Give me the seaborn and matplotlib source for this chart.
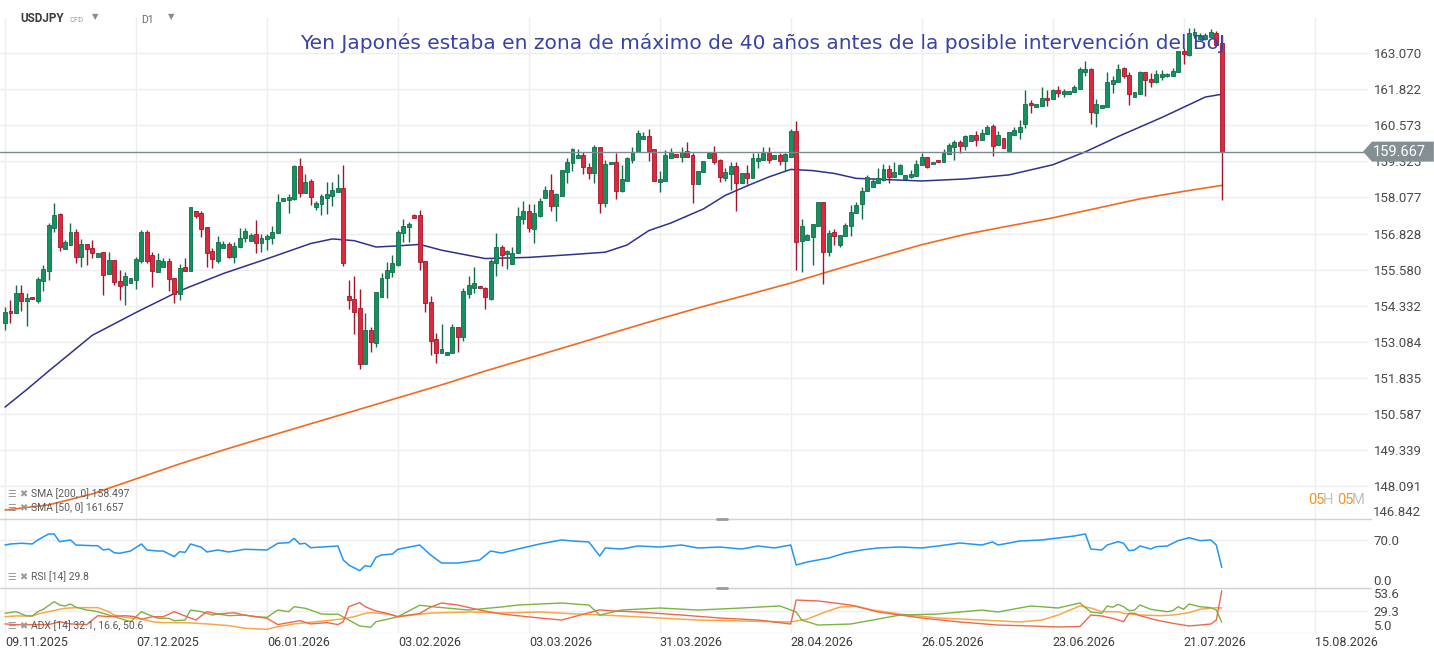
import numpy as np
import matplotlib
matplotlib.use("Agg")
import matplotlib.pyplot as plt
from matplotlib.patches import Polygon
from matplotlib.lines import Line2D
import seaborn as sns

# ---- daily USDJPY candles (one bar per session) ----
opens = [153.73, 154.14, 154.07, 154.77, 154.50, 154.63, 154.50, 155.18, 155.53, 157.02,
         157.51, 156.29, 156.43, 156.88, 156.02, 156.47, 156.33, 156.02, 156.19, 155.43,
         155.91, 155.18, 155.04, 155.11, 155.22, 155.88, 156.88, 156.08, 155.50, 155.67,
         155.88, 155.29, 154.73, 155.67, 155.53, 157.61, 157.54, 157.06, 156.22, 155.88,
         156.33, 156.47, 156.02, 156.36, 156.67, 156.57, 156.81, 156.50, 156.64, 156.67,
         156.85, 157.96, 157.99, 158.03, 159.17, 158.23, 158.65, 157.75, 157.85, 158.06,
         158.13, 158.27, 158.41, 154.66, 154.56, 154.25, 152.30, 153.49, 153.03, 154.63,
         155.29, 155.50, 155.74, 156.85, 157.06, 157.47, 157.47, 155.88, 154.46, 153.17,
         152.69, 152.62, 152.69, 153.59, 153.24, 154.73, 154.94, 155.01, 154.94, 154.56,
         155.81, 156.36, 156.12, 155.77, 156.15, 157.33, 157.61, 156.99, 157.44, 158.06,
         158.34, 157.78, 158.13, 158.96, 159.27, 159.45, 159.55, 159.14, 158.93, 159.83,
         157.89, 159.24, 159.31, 158.30, 158.65, 159.38, 159.66, 160.11, 160.21, 159.76,
         158.62, 158.65, 159.45, 159.59, 159.48, 159.69, 159.55, 158.55, 158.96, 159.45,
         159.62, 159.38, 158.76, 158.89, 159.17, 158.58, 158.93, 158.76, 159.34, 159.38,
         159.62, 159.41, 159.55, 159.34, 159.48, 160.38, 156.57, 156.60, 156.71, 157.09,
         157.92, 156.19, 156.88, 156.43, 156.74, 157.09, 157.54, 157.85, 158.30, 158.44,
         158.58, 158.69, 159.07, 158.79, 158.89, 158.72, 158.79, 158.83, 159.21, 159.48,
         159.24, 159.38, 159.31, 159.59, 159.83, 160.00, 159.86, 160.04, 160.25, 160.07,
         160.28, 160.56, 159.90, 160.14, 159.69, 160.25, 160.35, 160.63, 161.36, 161.22,
         161.25, 161.53, 161.49, 161.81, 161.67, 161.67, 161.74, 161.84, 162.43, 162.53,
         161.01, 161.18, 161.22, 162.01, 162.08, 162.57, 162.33, 161.56, 161.67, 162.43,
         162.19, 162.08, 162.26, 162.29, 162.29, 162.43, 163.16, 163.02, 163.71, 163.57,
         163.57, 163.64, 163.78, 163.44]
highs = [154.28, 154.53, 155.04, 155.04, 154.77, 154.63, 155.32, 155.74, 157.19, 157.89,
         157.54, 156.60, 157.19, 156.99, 156.64, 156.47, 156.60, 156.15, 156.19, 156.19,
         155.91, 155.57, 155.50, 155.29, 156.02, 156.95, 156.95, 156.19, 156.15, 155.98,
         155.98, 155.29, 155.77, 155.98, 157.75, 157.61, 157.61, 157.06, 156.33, 156.74,
         156.57, 156.54, 156.54, 157.02, 157.02, 156.85, 157.30, 156.81, 156.81, 157.09,
         158.20, 158.06, 158.20, 159.21, 159.45, 158.89, 158.72, 157.96, 158.20, 158.62,
         158.62, 158.89, 159.21, 155.22, 155.36, 154.90, 154.07, 153.59, 154.80, 155.46,
         155.84, 156.09, 156.95, 157.33, 157.23, 157.51, 157.65, 155.88, 154.66, 153.38,
         153.69, 152.72, 153.69, 153.59, 154.94, 155.36, 155.67, 155.01, 154.97, 155.95,
         156.85, 156.43, 156.26, 156.36, 157.75, 157.96, 157.85, 157.85, 158.06, 158.48,
         158.89, 158.23, 159.03, 159.45, 159.79, 159.76, 159.66, 159.27, 159.90, 159.83,
         159.38, 159.31, 159.62, 159.21, 159.48, 159.83, 160.42, 160.35, 160.45, 159.76,
         159.00, 159.73, 159.79, 159.59, 159.83, 160.00, 159.62, 159.00, 159.34, 159.66,
         159.86, 159.41, 159.10, 159.31, 159.31, 158.93, 159.21, 159.62, 159.62, 159.83,
         159.83, 159.55, 159.62, 159.62, 160.45, 160.73, 157.33, 156.81, 157.16, 157.92,
         157.92, 156.95, 156.99, 156.78, 157.19, 157.82, 157.92, 158.44, 158.86, 158.76,
         159.10, 159.24, 159.21, 159.31, 159.24, 158.86, 159.03, 159.38, 159.62, 159.48,
         159.31, 159.38, 159.76, 159.97, 160.07, 160.07, 160.25, 160.25, 160.38, 160.45,
         160.59, 160.63, 160.38, 160.14, 160.35, 160.52, 160.77, 161.81, 161.46, 161.32,
         161.91, 161.81, 161.84, 161.94, 161.84, 161.77, 161.98, 162.60, 162.81, 162.57,
         161.49, 161.29, 162.43, 162.29, 162.71, 162.60, 162.43, 161.74, 162.46, 162.43,
         162.40, 162.50, 162.50, 162.40, 162.57, 163.16, 163.26, 163.95, 163.95, 163.78,
         163.78, 163.92, 163.85, 163.71]
lows = [153.48, 153.73, 154.07, 154.14, 153.62, 154.56, 154.42, 154.84, 155.22, 156.88,
        156.22, 156.29, 156.43, 155.81, 155.67, 155.74, 155.98, 156.02, 154.70, 155.43,
        155.04, 154.53, 154.35, 155.11, 154.91, 155.81, 155.81, 154.97, 155.50, 155.67,
        154.84, 154.42, 154.53, 155.53, 155.53, 157.37, 156.71, 155.67, 155.63, 155.81,
        156.33, 155.98, 155.81, 156.36, 156.53, 156.57, 156.15, 156.19, 156.26, 156.47,
        156.85, 157.96, 157.54, 157.99, 158.10, 158.23, 157.82, 157.65, 157.47, 157.51,
        157.78, 158.27, 155.70, 154.21, 153.34, 152.13, 152.30, 152.72, 152.89, 154.63,
        154.59, 155.32, 155.70, 156.53, 156.53, 157.37, 155.57, 154.11, 152.62, 152.34,
        152.69, 152.62, 152.69, 152.72, 153.10, 154.59, 154.77, 154.94, 154.21, 154.53,
        155.36, 155.70, 155.60, 155.77, 156.15, 157.16, 156.88, 156.50, 157.40, 158.06,
        157.61, 157.26, 158.13, 158.58, 159.00, 159.45, 158.89, 158.72, 158.58, 157.54,
        157.75, 159.24, 158.03, 158.27, 158.65, 159.27, 159.66, 160.11, 159.34, 158.65,
        158.27, 158.65, 159.45, 159.48, 159.31, 159.48, 157.89, 158.55, 158.96, 159.45,
        159.24, 158.62, 158.65, 158.34, 157.61, 158.58, 158.55, 158.76, 159.10, 159.38,
        159.27, 159.41, 159.21, 159.00, 159.48, 155.57, 155.50, 156.60, 155.74, 157.09,
        155.08, 156.05, 156.43, 156.36, 156.74, 156.74, 157.54, 157.33, 158.30, 158.44,
        158.58, 158.65, 158.58, 158.79, 158.89, 158.72, 158.76, 158.83, 159.21, 159.10,
        159.24, 159.31, 159.31, 159.59, 159.38, 159.62, 159.73, 160.04, 159.86, 160.07,
        160.28, 159.52, 159.90, 159.79, 159.69, 160.25, 160.11, 160.49, 161.01, 161.22,
        161.25, 161.25, 161.49, 161.56, 161.56, 161.67, 161.74, 161.84, 162.29, 160.63,
        160.52, 161.18, 161.22, 161.70, 162.08, 162.22, 161.29, 161.56, 161.67, 161.60,
        161.91, 162.05, 162.15, 162.26, 162.29, 162.43, 162.71, 162.98, 163.61, 163.54,
        163.54, 163.64, 163.37, 157.99]
closes = [154.11, 154.07, 154.77, 154.49, 154.59, 154.56, 155.25, 155.60, 157.13, 157.47,
          156.36, 156.53, 156.88, 156.02, 156.47, 156.29, 156.15, 156.15, 155.39, 155.91,
          155.15, 155.01, 155.36, 155.29, 155.95, 156.88, 155.88, 155.53, 155.91, 155.88,
          155.25, 154.73, 155.63, 155.53, 157.75, 157.44, 156.99, 156.15, 155.95, 156.53,
          156.47, 156.02, 156.40, 156.67, 156.92, 156.78, 156.50, 156.67, 156.74, 156.88,
          157.92, 158.06, 158.09, 159.17, 158.23, 158.62, 158.10, 157.89, 158.13, 158.20,
          158.34, 158.41, 155.81, 154.53, 154.11, 152.30, 153.49, 153.07, 154.80, 155.29,
          155.57, 155.81, 156.88, 157.09, 157.16, 157.37, 155.84, 154.42, 153.10, 152.69,
          152.83, 152.72, 153.59, 153.24, 154.84, 155.04, 155.11, 154.94, 154.63, 155.88,
          156.36, 156.09, 156.22, 156.15, 157.44, 157.61, 157.02, 157.54, 157.96, 158.34,
          157.78, 158.20, 159.03, 159.31, 159.76, 159.55, 159.14, 158.93, 159.83, 157.89,
          159.24, 159.31, 158.30, 158.72, 159.45, 159.66, 160.31, 160.21, 159.69, 158.65,
          158.72, 159.55, 159.66, 159.48, 159.66, 159.48, 158.55, 159.00, 159.34, 159.62,
          159.31, 158.79, 158.96, 159.17, 158.58, 158.93, 158.76, 159.45, 159.45, 159.62,
          159.38, 159.55, 159.34, 159.59, 160.38, 156.54, 157.09, 156.78, 157.16, 157.92,
          156.19, 156.85, 156.74, 156.78, 157.13, 157.58, 157.82, 158.30, 158.79, 158.65,
          158.76, 159.07, 158.79, 158.96, 159.21, 158.86, 158.89, 159.24, 159.48, 159.14,
          159.31, 159.31, 159.62, 159.90, 160.00, 159.86, 160.21, 160.25, 160.07, 160.31,
          160.52, 159.86, 160.25, 159.79, 160.35, 160.42, 160.52, 161.32, 161.29, 161.32,
          161.53, 161.46, 161.81, 161.70, 161.77, 161.77, 161.91, 162.53, 162.53, 161.04,
          161.32, 161.29, 162.08, 162.15, 162.53, 162.29, 161.67, 161.74, 162.43, 162.15,
          162.08, 162.36, 162.36, 162.36, 162.46, 163.16, 163.05, 163.78, 163.82, 163.68,
          163.71, 163.82, 163.37, 159.667]

# ---- moving averages (bar number, value) ----
sma50_bar = [0, 4, 8, 16, 24, 32, 40, 48, 56, 60, 64, 68, 72, 76, 80, 88, 96, 104, 110, 114,
             118, 122, 128, 132, 136, 140, 144, 148, 152, 156, 160, 168, 176, 184, 192, 198,
             204, 212, 220, 223]
sma50_val = [150.81, 151.42, 152.06, 153.30, 154.09, 154.84, 155.44, 155.95, 156.48, 156.64,
             156.58, 156.36, 156.40, 156.45, 156.25, 155.96, 156.00, 156.10, 156.18, 156.43,
             156.93, 157.19, 157.68, 158.15, 158.48, 158.79, 159.05, 159.01, 158.91, 158.74,
             158.71, 158.65, 158.72, 158.86, 159.21, 159.66, 160.19, 160.85, 161.56, 161.657]
sma200_bar = [0, 8, 16, 24, 32, 40, 48, 56, 64, 72, 80, 88, 96, 104, 112, 120, 128, 136, 144,
              152, 160, 168, 176, 184, 192, 200, 208, 216, 223]
sma200_val = [147.24, 147.42, 147.80, 148.32, 148.84, 149.32, 149.78, 150.23, 150.68, 151.13,
              151.58, 152.06, 152.51, 152.96, 153.42, 153.87, 154.30, 154.70, 155.11, 155.57,
              156.01, 156.44, 156.80, 157.09, 157.37, 157.70, 158.03, 158.29, 158.497]

# ---- RSI(14) ----
rsi_bar = [0, 1, 3, 5, 6, 8, 9, 10, 12, 13, 16, 17, 18, 19, 20, 21, 23, 25, 26, 28, 29, 31, 32,
           33, 34, 36, 37, 39, 41, 44, 48, 50, 52, 53, 54, 55, 56, 61, 62, 63, 65, 66, 67, 68,
           69, 71, 72, 76, 78, 80, 83, 87, 89, 91, 94, 98, 102, 104, 107, 109, 110, 113, 116,
           120, 124, 127, 131, 135, 138, 141, 144, 145, 147, 149, 151, 154, 157, 160, 164, 168,
           171, 175, 179, 181, 182, 186, 190, 193, 196, 198, 199, 201, 202, 204, 205, 206, 207,
           208, 210, 211, 213, 215, 217, 219, 221, 222, 223]
rsi_val = [62.3, 63.8, 64.8, 63.8, 69.6, 78.3, 78.3, 67.1, 69.6, 62.3, 61.3, 61.3, 55.1, 56.5,
           51.2, 50.3, 53.6, 63.8, 55.1, 53.6, 53.6, 45.4, 52.6, 51.7, 63.8, 59.0, 52.2, 55.1,
           52.2, 56.1, 55.1, 64.8, 65.7, 72.0, 63.8, 64.8, 58.4, 60.9, 40.6, 33.3, 25.1, 32.3,
           30.9, 44.5, 47.8, 49.3, 56.1, 62.3, 47.8, 36.2, 36.2, 40.6, 53.6, 50.7, 56.5, 63.8,
           69.6, 68.1, 66.7, 46.4, 58.0, 56.5, 60.9, 59.4, 62.3, 58.0, 59.4, 56.5, 60.9, 58.0,
           62.3, 33.3, 37.7, 40.6, 43.5, 50.7, 55.1, 58.0, 59.4, 58.0, 60.9, 65.2, 62.3, 66.7,
           62.3, 68.1, 69.6, 72.5, 75.4, 78.3, 56.5, 55.1, 62.3, 67.1, 64.8, 54.1, 55.1, 60.9,
           56.5, 59.9, 60.9, 68.6, 72.9, 68.6, 69.6, 62.3, 29.8]

# ---- ADX(14): ADX, +DI, -DI ----
adx_bar = [0, 2, 5, 6, 8, 10, 11, 13, 17, 19, 20, 22, 25, 27, 29, 33, 37, 41, 44, 48, 50, 53,
           57, 60, 62, 64, 66, 67, 69, 71, 72, 78, 85, 91, 98, 105, 113, 120, 127, 135, 144,
           147, 150, 153, 156, 159, 164, 171, 179, 186, 190, 193, 197, 199, 201, 204, 205, 208,
           212, 214, 217, 219, 222, 223]
adx_val = [22.6, 23.4, 23.4, 25.5, 28.0, 30.6, 31.7, 32.4, 32.4, 28.0, 24.4, 21.9, 20.2, 17.2,
           16.2, 16.2, 14.8, 13.0, 10.1, 9.0, 11.9, 14.8, 17.2, 19.0, 20.4, 22.6, 26.2, 26.9,
           26.2, 24.4, 22.6, 26.6, 27.7, 26.6, 27.7, 25.5, 23.4, 21.2, 19.0, 18.0, 16.9, 20.0,
           27.0, 33.0, 34.0, 29.8, 25.5, 21.2, 19.0, 16.9, 19.0, 24.4, 34.2, 32.0, 28.0, 28.0,
           26.3, 24.4, 23.7, 24.4, 26.9, 30.6, 32.3, 32.1]
pdi_bar = [0, 2, 4, 5, 6, 7, 9, 10, 11, 12, 13, 15, 16, 17, 19, 21, 23, 25, 26, 28, 30, 31, 33,
           34, 36, 38, 39, 41, 44, 46, 48, 50, 52, 53, 55, 56, 58, 60, 61, 63, 65, 67, 68, 70,
           72, 76, 79, 85, 91, 94, 102, 107, 109, 113, 120, 127, 135, 142, 145, 146, 149, 155,
           159, 164, 171, 179, 182, 188, 193, 197, 199, 201, 202, 203, 204, 205, 206, 207, 208,
           210, 213, 214, 215, 216, 217, 219, 221, 222, 223]
pdi_val = [26.3, 28.0, 23.4, 23.4, 28.0, 30.6, 38.8, 35.2, 34.2, 36.3, 32.8, 29.8, 29.1, 28.0,
           24.4, 20.9, 17.2, 28.0, 25.5, 20.9, 20.9, 18.3, 19.0, 29.8, 28.0, 24.4, 25.5, 23.7,
           24.4, 22.6, 21.9, 29.8, 28.0, 33.4, 31.7, 29.8, 25.5, 25.2, 25.5, 19.0, 12.6, 11.2,
           17.2, 19.8, 22.6, 35.0, 33.0, 29.8, 33.1, 35.2, 37.4, 35.2, 24.4, 29.8, 32.0, 29.8,
           32.0, 34.2, 27.7, 19.0, 13.6, 14.7, 19.0, 24.4, 25.5, 29.8, 27.7, 34.2, 32.0, 37.4,
           27.7, 26.3, 34.2, 32.8, 36.0, 33.4, 29.1, 29.8, 35.2, 30.6, 28.0, 29.1, 33.4, 30.6,
           36.3, 33.4, 32.3, 29.8, 16.6]
mdi_bar = [0, 3, 5, 8, 10, 12, 15, 17, 19, 22, 24, 25, 27, 29, 31, 33, 35, 36, 37, 39, 42, 44,
           46, 48, 50, 52, 54, 56, 59, 61, 62, 63, 65, 66, 68, 70, 72, 76, 78, 80, 83, 87, 91,
           98, 102, 109, 111, 116, 124, 131, 138, 144, 145, 149, 155, 160, 168, 175, 182, 188,
           193, 197, 199, 201, 203, 205, 206, 207, 208, 211, 214, 217, 219, 221, 222, 223]
mdi_val = [14.8, 13.7, 14.1, 14.1, 17.2, 14.8, 14.1, 23.7, 22.6, 23.7, 22.6, 19.8, 22.6, 22.6,
           28.0, 23.4, 19.0, 23.7, 28.0, 25.5, 26.9, 24.1, 22.6, 20.9, 14.1, 16.2, 18.3, 14.8,
           16.2, 14.1, 17.2, 33.4, 37.8, 33.4, 28.7, 26.2, 22.6, 26.0, 33.0, 37.4, 35.2, 29.8,
           25.5, 21.2, 19.0, 30.0, 29.0, 27.7, 24.4, 21.2, 19.0, 14.7, 40.6, 39.6, 35.2, 27.7,
           21.2, 16.9, 13.6, 12.6, 11.5, 12.0, 24.4, 23.4, 20.9, 17.2, 26.3, 26.3, 23.7, 19.0,
           15.5, 12.6, 13.6, 14.7, 19.0, 50.6]

price_ticks = [163.070, 161.822, 160.573, 159.325, 158.077, 156.828, 155.580, 154.332,
               153.084, 151.835, 150.587, 149.339, 148.091, 146.842]
date_bars = [0, 24, 48, 72, 96, 120, 144, 168, 192, 216, 240]
date_labels = ["09.11.2025", "07.12.2025", "06.01.2026", "03.02.2026", "03.03.2026",
               "31.03.2026", "28.04.2026", "26.05.2026", "23.06.2026", "21.07.2026",
               "15.08.2026"]
title = "Yen Japonés estaba en zona de máximo de 40 años antes de la posible intervención del BoJ"

sns.set_theme(style="white")
plt.rcParams['font.family'] = ['Roboto', 'DejaVu Sans']

W, H = 1434, 659
fig = plt.figure(figsize=(W / 100, H / 100), dpi=100)


def px_axes(top, bottom, left=0, right=1368):
    return fig.add_axes([left / W, 1 - bottom / H, (right - left) / W, (bottom - top) / H])


def ftxt(x, y, s, **kw):
    kw.setdefault('va', 'center')
    fig.text(x / W, 1 - y / H, s, **kw)


ax = px_axes(18, 519)
ax_rsi = px_axes(519, 588)
ax_adx = px_axes(588, 633)

GRID = '#eeeeee'
LBL = '#4a4a4a'
for a in (ax, ax_rsi, ax_adx):
    a.set_xlim(-0.92, 249.8)
    a.set_xticks(date_bars)
    a.grid(True, color=GRID, lw=1)
    a.set_axisbelow(True)
    for s in a.spines.values():
        s.set_visible(False)
    a.yaxis.tick_right()
    a.tick_params(axis='both', length=0, labelsize=9.5, labelcolor=LBL)
    a.tick_params(axis='y', pad=4)
    a.set_xlabel('')
    a.set_ylabel('')
ax.tick_params(axis='x', labelbottom=False)
ax_rsi.tick_params(axis='x', labelbottom=False)
ax_adx.set_xticklabels(date_labels, ha='left')
ax_adx.tick_params(axis='x', pad=2, labelsize=9, labelcolor='#3c3c3c')

# ---- candles ----
o = np.array(opens); h = np.array(highs); l = np.array(lows); c = np.array(closes)
bars = np.arange(len(c))
up = c >= o
body_lo = np.minimum(o, c)
body_h = np.maximum(np.abs(c - o), 0.03)
ax.vlines(bars[up], l[up], h[up], color='#0f6e48', lw=1, zorder=3)
ax.vlines(bars[~up], l[~up], h[~up], color='#a3162a', lw=1, zorder=3)
ax.bar(bars[up], body_h[up], bottom=body_lo[up], width=0.72, color='#14915f',
       edgecolor='#0f6e48', linewidth=0.6, zorder=4)
ax.bar(bars[~up], body_h[~up], bottom=body_lo[~up], width=0.72, color='#e0283c',
       edgecolor='#a3162a', linewidth=0.6, zorder=4)

sns.lineplot(x=sma50_bar, y=sma50_val, ax=ax, color='#2f3190', lw=1.1, zorder=2)
sns.lineplot(x=sma200_bar, y=sma200_val, ax=ax, color='#f26a21', lw=1.2, zorder=2)

ax.set_ylim(146.93, 164.30)
ax.set_yticks(price_ticks[:-1])
ax.set_yticklabels([f"{v:.3f}" for v in price_ticks[:-1]])
ax.text(1.0, price_ticks[-1], "", transform=ax.get_yaxis_transform())
fig.text(1373 / W, 1 - 519 / H, f"{price_ticks[-1]:.3f}", va='bottom', ha='left',
         fontsize=9.5, color=LBL)

last = closes[-1]
ax.axhline(last, color='#7d8a90', lw=1, zorder=5)
yf = fig.transFigure.inverted().transform(ax.transData.transform((0, last)))[1]
th = 10 / H
tag = Polygon([(1363 / W, yf), (1372 / W, yf + th), (1 - 0.0001, yf + th),
               (1 - 0.0001, yf - th), (1372 / W, yf - th)], closed=True,
              transform=fig.transFigure, facecolor='#848f94', edgecolor='none', zorder=10)
fig.add_artist(tag)
fig.text(1373 / W, yf, f"{last:.3f}", va='center', ha='left', fontsize=10.5,
         color='white', zorder=11)

# ---- RSI ----
sns.lineplot(x=rsi_bar, y=rsi_val, ax=ax_rsi, color='#2196f3', lw=1.1)
ax_rsi.set_ylim(0, 100)
ax_rsi.set_yticks([0, 70])
ax_rsi.set_yticklabels(['0.0', '70.0'])
ax_rsi.get_yticklabels()[0].set_va('bottom')

# ---- ADX ----
sns.lineplot(x=adx_bar, y=adx_val, ax=ax_adx, color='#f8a848', lw=1.1)
sns.lineplot(x=pdi_bar, y=pdi_val, ax=ax_adx, color='#7cb342', lw=1.0)
sns.lineplot(x=mdi_bar, y=mdi_val, ax=ax_adx, color='#f0684c', lw=1.0)
ax_adx.set_ylim(5.0, 53.6)
ax_adx.set_yticks([5.0, 29.3, 53.6])
ax_adx.set_yticklabels(['5.0', '29.3', '53.6'])
ax_adx.get_yticklabels()[0].set_va('bottom')
ax_adx.get_yticklabels()[2].set_va('top')
for a in (ax, ax_rsi, ax_adx):
    a.set_xlabel('')
    a.set_ylabel('')

# ---- panel separators ----
for yy in (519, 588):
    fig.add_artist(Line2D([0, 1371 / W], [1 - yy / H] * 2, color='#d2d2d2', lw=1))
    fig.add_artist(Line2D([717 / W, 727 / W], [1 - yy / H] * 2, color='#9a9a9a', lw=2))

# ---- texts ----
ftxt(763, 43, title, ha='center', fontsize=14.5, color='#3942a5', family='DejaVu Sans')
ftxt(20, 19, "USDJPY", fontsize=8.5, fontweight='bold', color='#3c3c3c')
ftxt(69, 20, "CFD", fontsize=5.5, color='#9a9a9a')
ftxt(92, 17, "▼", fontsize=6, color='#8a8a8a', family='DejaVu Sans')
ftxt(141, 20, "D1", fontsize=7.5, color='#666666')
ftxt(168, 17, "▼", fontsize=6, color='#8a8a8a', family='DejaVu Sans')

for yy, s in ((494, "SMA [200, 0] 158.497"), (508, "SMA [50, 0] 161.657"),
              (577, "RSI [14] 29.8"), (626, "ADX [14] 32.1, 16.6, 50.6")):
    ftxt(7, yy, "☰", fontsize=7, color='#9a9a9a', family='DejaVu Sans')
    ftxt(19, yy, "✖", fontsize=7, color='#9a9a9a', family='DejaVu Sans')
    ftxt(31, yy, s, fontsize=7.5, color='#5a5a5a')

ftxt(1308, 500, "05", fontsize=10.5, color='#f7941d')
ftxt(1323, 500, "H", fontsize=10.5, color='#c0c0c0')
ftxt(1337, 500, "05", fontsize=10.5, color='#f7941d')
ftxt(1352, 500, "M", fontsize=10.5, color='#c0c0c0')

fig.savefig('out.png', dpi=100)
